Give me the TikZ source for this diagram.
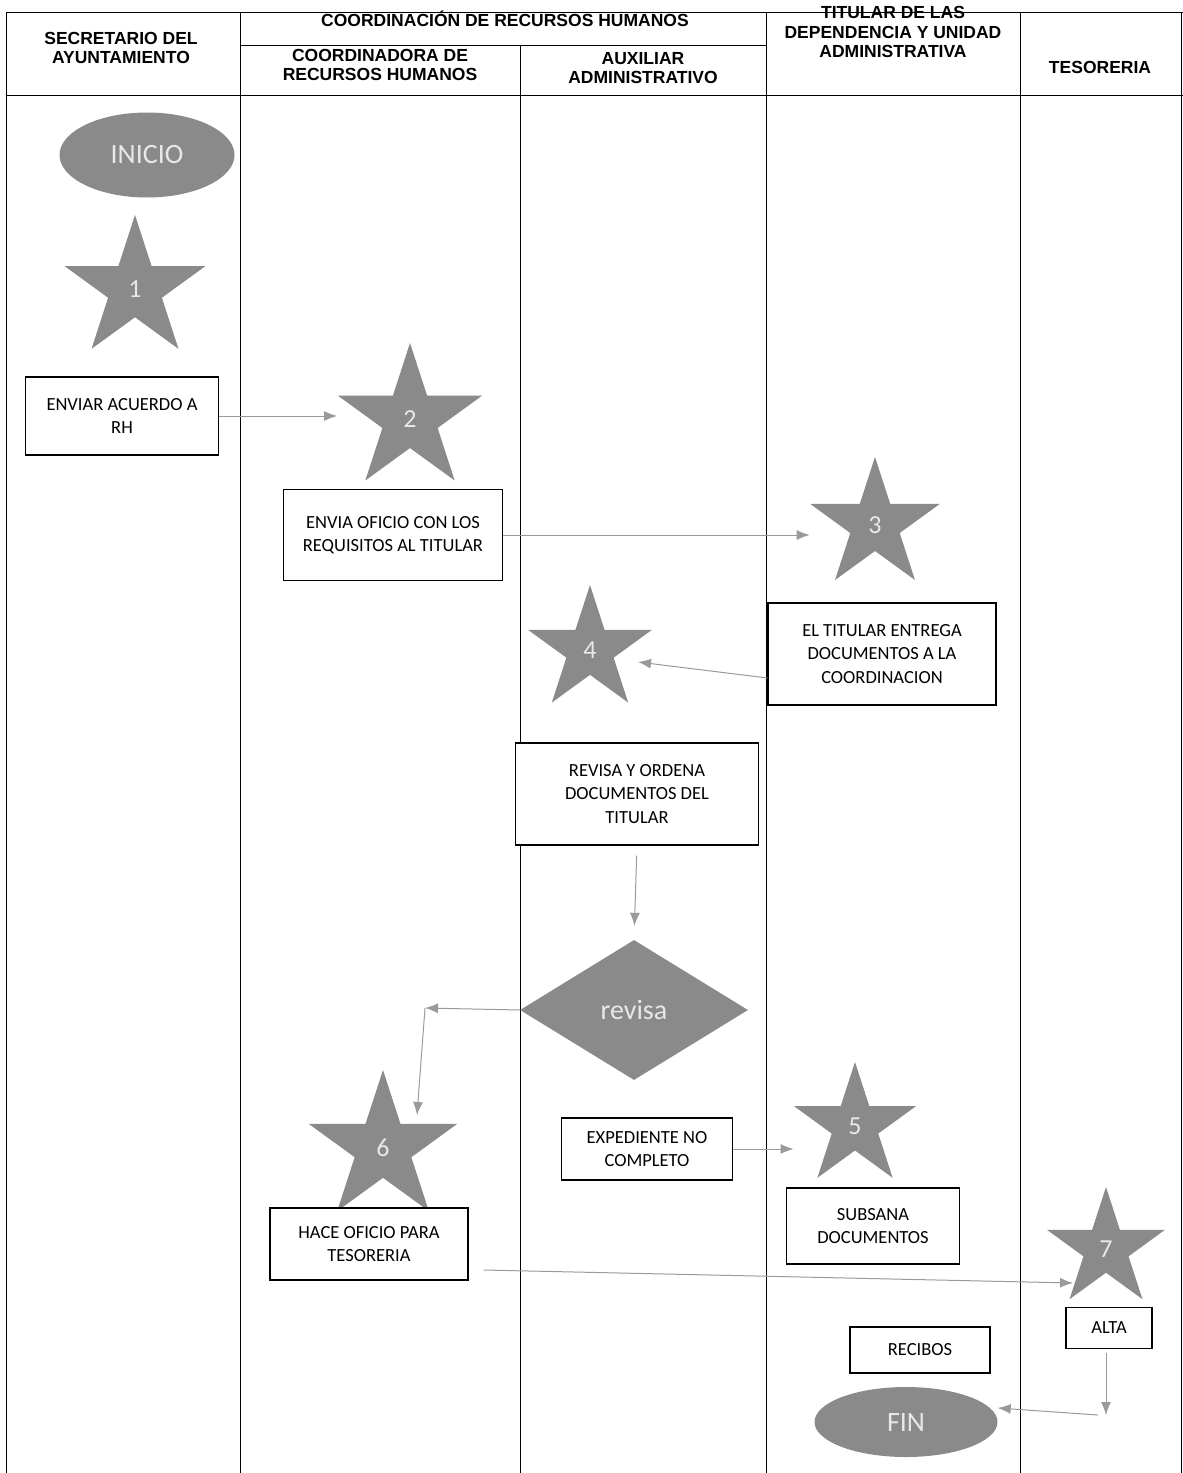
\documentclass[tikz,border=0pt]{standalone}
\usepackage{fontspec}
\setmainfont{Liberation Sans}
\newfontfamily\carlito{Carlito}
\usetikzlibrary{shapes.geometric,arrows.meta}
\definecolor{gris}{HTML}{8A8A8A}
\definecolor{grislinea}{HTML}{9A9A9A}
\definecolor{grisclaro}{HTML}{E8E8E8}
\begin{document}
\begin{tikzpicture}[x=1pt,y=-1pt,
    caja/.style={draw, line width=1.2pt, fill=white, align=center, inner sep=0pt,
      font=\carlito\fontsize{18.5}{23.5}\selectfont},
    estrella/.style={star, star points=5, star point ratio=2.618, fill=gris,
      inner sep=0pt, text=grisclaro, font=\carlito\fontsize{26}{26}\selectfont},
    terminal/.style={ellipse, fill=gris, inner sep=0pt, text=grisclaro,
      font=\carlito\fontsize{28}{28}\selectfont},
    titulo/.style={align=center, font=\bfseries\fontsize{17.5}{19.5}\selectfont},
    flecha/.style={draw=grislinea, line width=1pt, -{Latex[length=13pt,width=10pt]}}]

    % carriles
    \def\xa{6}
    \def\xb{240}
    \def\xc{520}
    \def\xd{766}
    \def\xe{1020}
    \def\xf{1181}
    \def\ya{12}
    \def\yb{45}
    \def\yc{95}
    \def\yd{1473}

    \useasboundingbox (0,0) rectangle (1183,1473);

    % marco y lineas de carril
    \draw[line width=1pt] (\xa,\ya) -- (1183,\ya);
    \draw[line width=1pt] (\xa,\yc) -- (1183,\yc);
    \draw[line width=1pt] (\xb,\yb) -- (\xd,\yb);
    \draw[line width=1pt] (\xa,\ya) -- (\xa,\yd);
    \draw[line width=1pt] (\xb,\ya) -- (\xb,\yd);
    \draw[line width=1pt] (\xc,\yb) -- (\xc,\yd);
    \draw[line width=1pt] (\xd,\ya) -- (\xd,\yd);
    \draw[line width=1pt] (\xe,\ya) -- (\xe,\yd);
    \draw[line width=1pt] (\xf,\ya) -- (\xf,\yd);

    % encabezados
    \node[titulo] (hsec) at (121,48) {SECRETARIO DEL\\AYUNTAMIENTO};
    \node[titulo] (hcoord) at (505,19) {COORDINACIÓN DE RECURSOS HUMANOS};
    \node[titulo] (hrh) at (380,65) {COORDINADORA DE\\RECURSOS HUMANOS};
    \node[titulo] (haux) at (643,68) {AUXILIAR\\ADMINISTRATIVO};
    \node[titulo] (htit) at (893,32) {TITULAR DE LAS\\DEPENDENCIA Y UNIDAD\\ADMINISTRATIVA};
    \node[titulo] (htes) at (1100,67) {TESORERIA};

    % inicio y pasos
    \node[terminal, minimum width=175, minimum height=85] (ini) at (147,155) {INICIO};
    \node[estrella, minimum size=148] (s1) at (135,289) {1};
    \node[caja, minimum width=193, minimum height=78] (b1) at (122,416) {ENVIAR ACUERDO A\\RH};
    \node[estrella, minimum size=152] (s2) at (410,419) {2};
    \node[caja, minimum width=219, minimum height=91] (b2) at (393,535) {ENVIA OFICIO CON LOS\\REQUISITOS AL TITULAR};
    \node[estrella, minimum size=136] (s3) at (875,525) {3};
    \node[caja, minimum width=228, minimum height=102] (b3) at (882,654) {EL TITULAR ENTREGA\\DOCUMENTOS A LA\\COORDINACION};
    \node[estrella, minimum size=130] (s4) at (590,650) {4};
    \node[caja, minimum width=243, minimum height=102] (b4) at (637,794) {REVISA Y ORDENA\\DOCUMENTOS DEL\\TITULAR};
    \node[diamond, fill=gris, inner sep=0pt, minimum width=228, minimum height=140,
      text=grisclaro, font=\carlito\fontsize{28}{28}\selectfont] (dia) at (634,1010) {revisa};
    \coordinate (codo) at (425,1008);
    \node[estrella, minimum size=156] (s6) at (383,1148) {6};
    \node[caja, minimum width=198, minimum height=72] (b6) at (369,1244) {HACE OFICIO PARA\\TESORERIA};
    \node[caja, minimum width=171, minimum height=62] (b5) at (647,1149) {EXPEDIENTE NO\\COMPLETO};
    \node[estrella, minimum size=128] (s5) at (855,1126) {5};
    \node[caja, minimum width=173, minimum height=76] (bsub) at (873,1226) {SUBSANA\\DOCUMENTOS};
    \node[estrella, minimum size=124] (s7) at (1106,1249) {7};
    \node[caja, minimum width=86, minimum height=41] (alta) at (1109,1328) {ALTA};
    \node[caja, minimum width=140, minimum height=46] (rec) at (920,1350) {RECIBOS};
    \coordinate (baja) at (1106,1415);
    \node[terminal, minimum width=183, minimum height=70] (fin) at (906,1422) {FIN};

    % conectores
    \draw[flecha] (b1.east) -- (b1.east -| s2.outer point 2);
    \draw[flecha] (b2.east) -- (b2.east -| s3.outer point 2);
    \draw[flecha] ([yshift=-24pt]b3.west) -- ([xshift=48pt,yshift=-12pt]s4.center);
    \draw[flecha, shorten <=10pt, shorten >=14pt] (b4.south) -- (dia.north);
    \draw[flecha] (dia.west) -- (codo);
    \draw[flecha] (codo) -- ([xshift=34pt,yshift=33pt]s6.center);
    \draw[flecha] (b5.east) -- (b5.east -| s5.outer point 2);
    \draw[flecha] ([xshift=15pt,yshift=-26pt]b6.east) -- ([xshift=-33pt,yshift=-34pt]s7.center);
    \draw[flecha, shorten <=4pt] (alta.south -| baja) -- (baja);
    \draw[flecha] ([xshift=-8pt]baja) -- ([yshift=14pt]fin.east);

\end{tikzpicture}
\end{document}
